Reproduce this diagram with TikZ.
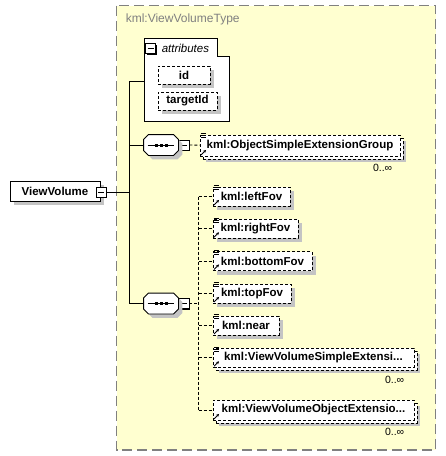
\documentclass[tikz,border=0pt]{standalone}
\usepackage{fontspec}
\setmainfont{Liberation Sans}
\usetikzlibrary{shadows,calc,arrows.meta}

\begin{document}
\begin{tikzpicture}[x=1pt,y=-1pt,line width=0.9pt,
    elem/.style={shape=rectangle,draw,fill=white,inner sep=0pt,minimum height=19pt,
        font=\bfseries\fontsize{11.5}{13}\selectfont,
        drop shadow={shadow xshift=4pt,shadow yshift=-4pt,fill=xsd_shadow,opacity=1}},
    optelem/.style={elem,dash pattern=on 3pt off 2pt},
    multielem/.style={shape=rectangle,draw,dash pattern=on 3pt off 2pt,fill=white,inner sep=0pt,minimum height=19pt,
        font=\bfseries\fontsize{11.5}{13}\selectfont,
        drop shadow={shadow xshift=6pt,shadow yshift=-6pt,fill=xsd_shadow,opacity=1},
        copy shadow={shadow xshift=3pt,shadow yshift=-3pt,dash pattern=on 3pt off 2pt,draw,fill=white}},
    minusbox/.style={shape=rectangle,draw,fill=white,line width=0.9pt,inner sep=0pt,minimum size=10pt,
        drop shadow={shadow xshift=1.2pt,shadow yshift=-1.2pt,fill=black,opacity=1},
        path picture={\draw ([xshift=2pt]path picture bounding box.west) -- ([xshift=-2pt]path picture bounding box.east);}},
    seqbox/.style={shape=rectangle,inner sep=0pt,minimum width=34pt,minimum height=20pt},
    seq_shadow/.style={fill=xsd_shadow},
    seq_outline/.style={draw,fill=white},
    occurs/.style={anchor=east,font=\fontsize{10.5}{12}\selectfont},
    conn_opt/.style={dash pattern=on 3pt off 2pt}]
    \definecolor{xsd_bg}{RGB}{255,255,208}
    \definecolor{xsd_shadow}{RGB}{196,196,196}
    \definecolor{xsd_frame}{RGB}{128,128,128}
    \useasboundingbox (0,0) rectangle (446,456);

    \draw[xsd_frame,fill=xsd_bg,line width=1.2pt,dash pattern=on 10pt off 5pt] (116.5,5.5) rectangle (435.5,450);
    \node[anchor=west,text=xsd_frame,font=\fontsize{12}{14}\selectfont] (type_title) at (122,19) {kml:ViewVolumeType};

    \draw[fill=white] (144,38) -- (217,38) -- (217,56) -- (229,56) -- (229,121) -- (144,121) -- cycle;
    \node[minusbox] (attr_minus) at (150.5,48.5) {};
    \node[anchor=west,font=\itshape\fontsize{11.5}{13}\selectfont] (attr_title) at (158,48) {attributes};
    \coordinate (attr_w) at (144,81);
    \node[optelem,minimum width=52pt,minimum height=18pt] (attr_id) at (184,75) {id};
    \node[optelem,minimum width=59pt,minimum height=18pt] (attr_target) at (187.5,101) {targetId};

    \node[elem,minimum width=90pt,minimum height=20pt] (viewvolume) at (55,191) {ViewVolume};
    \node[minusbox] (vv_minus) at (101,192) {};

    \coordinate (trunk_top) at (129,81);
    \coordinate (trunk_bot) at (129,303.5);

    \node[seqbox] (seq_ext) at (161,145) {};
    \node[minusbox] (seq_ext_minus) at (184,145) {};
    \node[multielem,minimum width=200pt,minimum height=21pt] (ose_group) at (300,145.5) {kml:ObjectSimpleExtensionGroup};
    \node[occurs] (ose_occ) at (396,168) {0..∞};

    \node[seqbox] (seq_view) at (161,303.5) {};
    \node[minusbox] (seq_view_minus) at (184,303.5) {};
    \foreach \name/\label/\w/\y in {leftfov/kml:leftFov/77/196.5,rightfov/kml:rightFov/85/228.8,
        bottomfov/kml:bottomFov/99/261,topfov/kml:topFov/78/293.5,near/kml:near/66/325.5}
        \node[optelem,minimum width=\w pt] (\name) at (213+\w/2,\y) {\label};
    \node[multielem,minimum width=201pt] (vvsimple) at (313.5,357.8) {kml:ViewVolumeSimpleExtensi...};
    \node[occurs] (vvsimple_occ) at (408,380) {0..∞};
    \node[multielem,minimum width=201pt,minimum height=20pt] (vvobject) at (313.5,410) {kml:ViewVolumeObjectExtensio...};
    \node[occurs] (vvobject_occ) at (408,432) {0..∞};

    \foreach \name in {seq_ext,seq_view} {
        \foreach \off/\sty in {4/seq_shadow,0/seq_outline}
            \path[\sty] ($(\name.north west)+(5+\off,\off)$) -- ($(\name.north east)+(-5+\off,\off)$)
                -- ($(\name.north east)+(\off,5+\off)$) -- ($(\name.south east)+(\off,-5+\off)$)
                -- ($(\name.south east)+(-5+\off,\off)$) -- ($(\name.south west)+(5+\off,\off)$)
                -- ($(\name.south west)+(\off,-5+\off)$) -- ($(\name.north west)+(\off,5+\off)$) -- cycle;
        \draw ($(\name.west)+(4,0)$) -- ($(\name.east)+(-4,0)$);
        \foreach \dx in {-5,0,5}
            \fill ($(\name.center)+(\dx-1.5,-1.5)$) rectangle ++(3,3);
    }

    \coordinate (rail_top) at (198.5,196.5);
    \coordinate (rail_bot) at (198.5,410);

    \draw (vv_minus) -- (vv_minus -| trunk_top);
    \draw (trunk_top) -- (trunk_bot);
    \draw (trunk_top) -- (attr_w);
    \draw (seq_ext.west -| trunk_top) -- (seq_ext);
    \draw (trunk_bot) -- (seq_view);
    \draw[conn_opt] (seq_ext_minus) -- (ose_group);
    \draw[conn_opt] (seq_view_minus) -- (seq_view_minus -| rail_top);
    \draw[conn_opt] (rail_top) -- (rail_bot);
    \foreach \name in {leftfov,rightfov,bottomfov,topfov,near,vvsimple,vvobject}
        \draw[conn_opt] (\name.west -| rail_top) -- (\name.west);

    \foreach \name in {ose_group,leftfov,rightfov,bottomfov,topfov,near,vvsimple}
        \foreach \dy in {-1,1,3}
            \draw[line width=0.7pt] ($(\name.north west)+(1,\dy)$) -- ++(5,0);
    \foreach \name in {ose_group,leftfov,rightfov,bottomfov,topfov,near,vvsimple,vvobject}
        \draw[line width=0.9pt,-{Stealth[length=3pt,width=3pt]}] ($(\name.south west)+(1.5,-1.5)$) -- ++(5,-5);
\end{tikzpicture}
\end{document}
